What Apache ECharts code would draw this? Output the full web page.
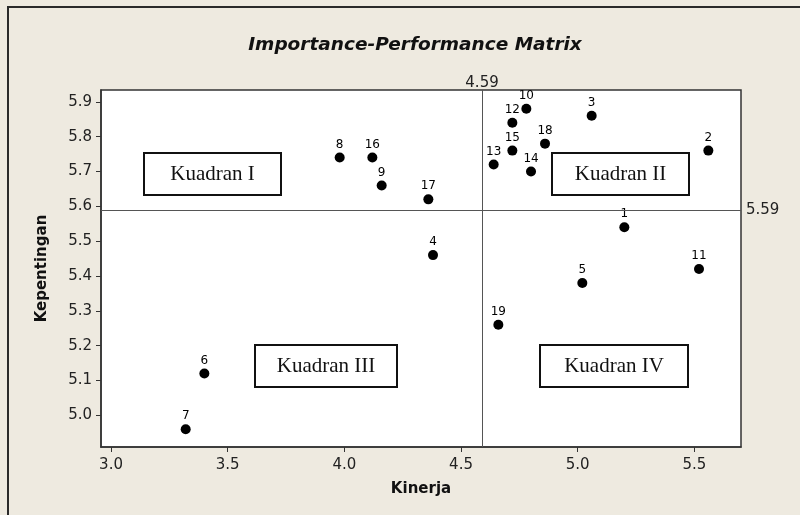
<!DOCTYPE html>
<html>
<head>
<meta charset="utf-8">
<script src="https://cdn.jsdelivr.net/npm/echarts@6/dist/echarts.min.js"></script>
<style>html,body{margin:0;padding:0;background:#EEEAE0;}#c{width:800px;height:515px;}</style>
</head>
<body>
<div id="c"></div>
<script>
// Data
var ids = ['1','2','3','4','5','6','7','8','9','10','11','12','13','14','15','16','17','18','19'];
var kinerja = [5.20, 5.56, 5.06, 4.38, 5.02, 3.40, 3.32, 3.98, 4.16, 4.78, 5.52, 4.72, 4.64, 4.80, 4.72, 4.12, 4.36, 4.86, 4.66];
var kepentingan = [5.54, 5.76, 5.86, 5.46, 5.38, 5.12, 4.96, 5.74, 5.66, 5.88, 5.42, 5.84, 5.72, 5.70, 5.76, 5.74, 5.62, 5.78, 5.26];
var xTicks = [3.0, 3.5, 4.0, 4.5, 5.0, 5.5];
var yTicks = [5.0, 5.1, 5.2, 5.3, 5.4, 5.5, 5.6, 5.7, 5.8, 5.9];
var refX = 4.59, refY = 5.59;
var quadrantNames = ['Kuadran I', 'Kuadran II', 'Kuadran III', 'Kuadran IV'];

var pts = kinerja.map(function(v, i){ return {value:[v, kepentingan[i]], name: ids[i]}; });

var chart = echarts.init(document.getElementById('c'), null, {renderer:'canvas'});
var axisFont = 'DejaVu Sans';
var boxes = [
  {x:144, y:153, w:137, h:42, t:quadrantNames[0]},
  {x:552, y:153, w:137, h:42, t:quadrantNames[1]},
  {x:255, y:345, w:142, h:42, t:quadrantNames[2]},
  {x:540, y:345, w:148, h:42, t:quadrantNames[3]}
];
var graphics = [
  {type:'polyline', shape:{points:[[8,515],[8,7],[800,7]]}, style:{stroke:'#2a2a2a', lineWidth:2, fill:null}, z:100}
];
boxes.forEach(function(b){
  graphics.push({type:'rect', shape:{x:b.x, y:b.y, width:b.w, height:b.h}, style:{fill:'#fff', stroke:'#111', lineWidth:2}, z:50});
  graphics.push({type:'text', x:b.x + b.w/2, y:b.y + b.h/2, style:{text:b.t, fill:'#111', font:'21px "Liberation Serif"', align:'center', verticalAlign:'middle'}, z:51});
});
var refLabel = {show:true, position:'end', fontFamily:axisFont, fontSize:15, color:'#222', formatter:function(p){return p.value.toFixed(2);}};

chart.setOption({
  backgroundColor:'#EEEAE0',
  animation:false,
  title:{text:'Importance-Performance Matrix', left:410, top:31, textAlign:'center',
    textStyle:{fontFamily:axisFont, fontSize:18.5, fontWeight:'bold', fontStyle:'italic', color:'#111'}},
  grid:{left:101, right:59, top:90, bottom:68, show:true, backgroundColor:'#fff', borderColor:'#333', borderWidth:1.5},
  xAxis:{type:'value', min:2.957, max:5.70,
    name:'Kinerja', nameLocation:'middle', nameGap:35,
    nameTextStyle:{fontFamily:axisFont, fontSize:15, fontWeight:'bold', color:'#111'},
    axisLine:{lineStyle:{color:'#333', width:1.5}},
    axisTick:{show:true, length:5, lineStyle:{color:'#333'}, customValues:xTicks},
    axisLabel:{fontFamily:axisFont, fontSize:15, color:'#222', margin:11, customValues:xTicks,
      formatter:function(v){return v.toFixed(1);}},
    splitLine:{show:false}},
  yAxis:{type:'value', min:4.909, max:5.934,
    name:'Kepentingan', nameLocation:'middle', nameGap:51, nameRotate:90,
    nameTextStyle:{fontFamily:axisFont, fontSize:15, fontWeight:'bold', color:'#111'},
    axisLine:{show:true, lineStyle:{color:'#333', width:1.5}},
    axisTick:{show:true, length:5, lineStyle:{color:'#333'}, customValues:yTicks},
    axisLabel:{fontFamily:axisFont, fontSize:15, color:'#222', margin:9, customValues:yTicks,
      formatter:function(v){return v.toFixed(1);}},
    splitLine:{show:false}},
  graphic:graphics,
  series:[{
    type:'scatter', data:pts, symbol:'circle', symbolSize:10,
    itemStyle:{color:'#000', opacity:1},
    label:{show:true, position:'top', distance:2, formatter:'{b}', fontFamily:axisFont, fontSize:12, color:'#000'},
    markLine:{silent:true, symbol:'none', animation:false,
      lineStyle:{color:'#555', width:1, type:'solid'},
      data:[
        {xAxis:refX, label:Object.assign({}, refLabel, {distance:-1})},
        {yAxis:refY, label:Object.assign({}, refLabel, {distance:5})}
      ]}
  }]
});
</script>
</body>
</html>
